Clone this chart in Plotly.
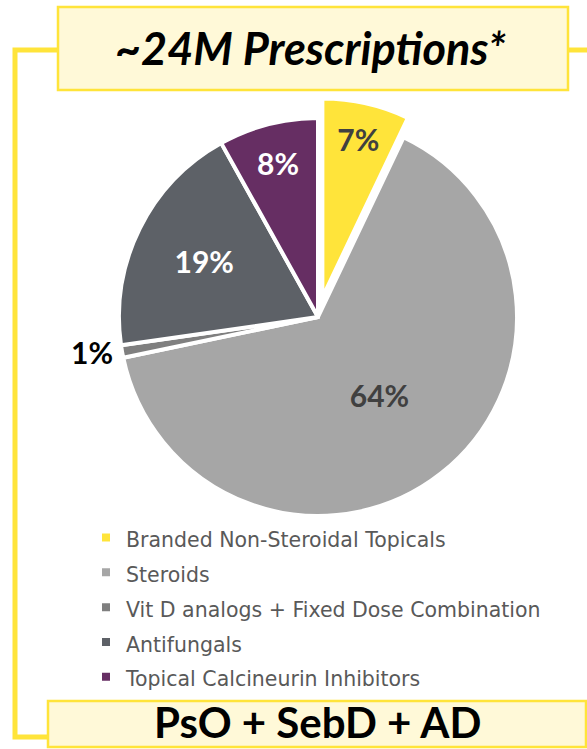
import plotly.graph_objects as go

W, H = 587, 749

categories = [
    "Branded Non-Steroidal Topicals",
    "Steroids",
    "Vit D analogs + Fixed Dose Combination",
    "Antifungals",
    "Topical Calcineurin Inhibitors",
]
shares = [7, 64, 1, 19, 8]
slice_colors = ["#FFE43A", "#A6A6A6", "#7F7F7F", "#5D6167", "#662E63"]
label_colors = ["#404040", "#404040", "#000000", "#FFFFFF", "#FFFFFF"]
label_positions = ["inside", "inside", "outside", "inside", "inside"]
pulls = [0.1, 0, 0, 0, 0]

title_text = "~24M Prescriptions*"
footer_text = "PsO + SebD + AD"

YELLOW = "#FFE43A"
CREAM = "#FFF9D8"


def px(x):
    return x / W


def py(y):
    return 1 - y / H


# pie geometry in pixels
cx, cy, r = 318, 317, 199
half = r * 1.1

# legend rows are spaced by the legend font size, so the text itself is set smaller
legend_labels = [f'<span style="font-size:20.5px">{c}</span>' for c in categories]

fig = go.Figure(
    go.Pie(
        labels=legend_labels,
        values=shares,
        sort=False,
        direction="clockwise",
        rotation=0,
        pull=pulls,
        marker=dict(colors=slice_colors, line=dict(color="white", width=4)),
        texttemplate="%{value}%",
        textposition=label_positions,
        insidetextorientation="horizontal",
        textfont=dict(family="Lato", size=30, color=label_colors, weight="bold"),
        hovertemplate="%{value}%<extra></extra>",
        domain=dict(
            x=[px(cx - half), px(cx + half)],
            y=[py(cy + half), py(cy - half)],
        ),
    )
)

shapes = [
    # yellow bracket frame
    dict(type="path", xref="paper", yref="paper",
         path=f"M {px(58)},{py(50)} L {px(15)},{py(50)} L {px(15)},{py(737)} L {px(48)},{py(737)}",
         line=dict(color=YELLOW, width=5)),
    dict(type="line", xref="paper", yref="paper",
         x0=px(568), x1=px(590), y0=py(50), y1=py(50),
         line=dict(color=YELLOW, width=5)),
    # title box
    dict(type="rect", xref="paper", yref="paper",
         x0=px(58), x1=px(568), y0=py(90), y1=py(7),
         fillcolor=CREAM, line=dict(color=YELLOW, width=2.5)),
    # footer box
    dict(type="rect", xref="paper", yref="paper",
         x0=px(48), x1=px(586), y0=py(747), y1=py(701),
         fillcolor=CREAM, line=dict(color=YELLOW, width=2.5)),
]

annotations = [
    dict(text=f"<b><i>{title_text}</i></b>", x=px(310), y=py(48),
         xref="paper", yref="paper", xanchor="center", yanchor="middle",
         showarrow=False, font=dict(family="Lato", size=45, color="black")),
    dict(text=f"<b>{footer_text}</b>", x=px(317), y=py(722),
         xref="paper", yref="paper", xanchor="center", yanchor="middle",
         showarrow=False, font=dict(family="Lato", size=42, color="black")),
]

fig.update_layout(
    width=W,
    height=H,
    margin=dict(l=0, r=0, t=0, b=0),
    paper_bgcolor="white",
    plot_bgcolor="white",
    shapes=shapes,
    annotations=annotations,
    showlegend=True,
    legend=dict(
        x=px(86),
        y=py(515),
        xanchor="left",
        yanchor="top",
        font=dict(family="DejaVu Sans", size=24.5, color="#595959"),
        bgcolor="rgba(0,0,0,0)",
        traceorder="normal",
    ),
)

fig.write_html(
    "out.html",
    config={"displayModeBar": False},
    post_script="document.body.style.margin = '0';",
)
